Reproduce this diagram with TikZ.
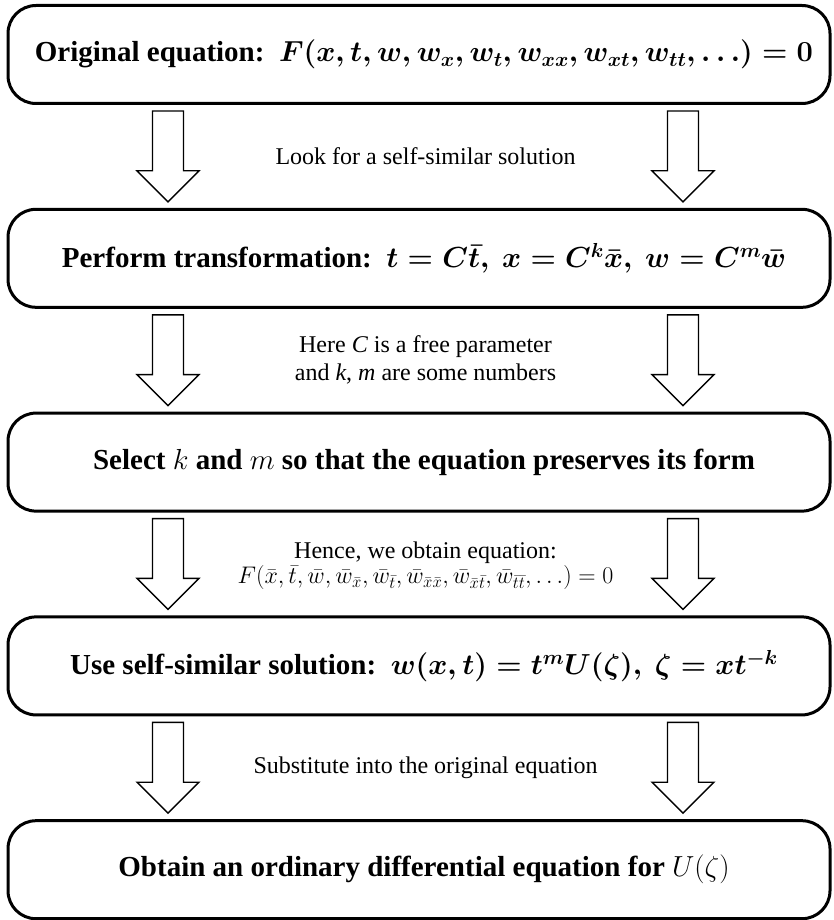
\documentclass[tikz,border=0pt]{standalone}
\usepackage{fix-cm}
\usepackage{fontspec}
\setmainfont{Liberation Serif}
\usetikzlibrary{calc}
\tikzset{
  stepbox/.style={draw, line width=3pt, rounded corners=28pt, minimum width=822pt,
    minimum height=98pt, inner sep=0pt, align=center,
    font=\fontsize{29}{33}\selectfont\bfseries},
  lbl/.style={font=\fontsize{24}{28}\selectfont, align=center, inner sep=0pt},
  blockarr/.style={draw, line width=1.4pt, fill=white, line join=miter},
}
\newcommand{\boxshift}{\hspace*{10pt}}
\begin{document}
\begin{tikzpicture}[x=1pt,y=1pt]
\useasboundingbox (0,0) rectangle (833,-920);
\node[stepbox] (b1) at (419,-54.5) {\boxshift Original equation:\ \ {\boldmath$F(x,t,w,w_x,w_t,w_{xx},w_{xt},w_{tt},\ldots)=0$}};
\node[stepbox] (b2) at (419,-258.3) {\boxshift Perform transformation:\ \ {\boldmath$t=C\bar t,\ x=C^k\bar x,\ w=C^m\bar w$}};
\node[stepbox] (b3) at (419,-462.1) {\boxshift Select $k$ and $m$ so that the equation preserves its form};
\node[stepbox] (b4) at (419,-665.9) {\boxshift Use self-similar solution:\ \ {\boldmath$w(x,t)=t^mU(\zeta),\ \zeta=xt^{-k}$}};
\node[stepbox] (b5) at (419,-869.7) {\boxshift Obtain an ordinary differential equation for $U(\zeta)$};
\coordinate (L) at (168,0);
\coordinate (R) at (683,0);
\foreach \ta/\tb in {b1/b2,b2/b3,b3/b4,b4/b5}{
  \foreach \col in {L,R}{
    \draw[blockarr] ($(\ta.south -| \col)+(-15.5,-6)$) -- ($(\tb.north -| \col)+(-15.5,37)$)
      -- ($(\tb.north -| \col)+(-31,37)$) -- ($(\tb.north -| \col)+(0,6)$)
      -- ($(\tb.north -| \col)+(31,37)$) -- ($(\tb.north -| \col)+(15.5,37)$)
      -- ($(\ta.south -| \col)+(15.5,-6)$) -- cycle;
  }
}
\node[lbl] (l1) at (425.5,-156.5) {Look for a self-similar solution};
\node[lbl] (l2) at (425.5,-360) {Here \textit{C} is a free parameter\\and \textit{k}, \textit{m} are some numbers};
\node[lbl] (l3) at (425.5,-566) {Hence, we obtain equation:\\[-3pt]
  $F(\bar x,\bar t,\bar w,\bar w_{\bar x},\bar w_{\bar t},\bar w_{\bar x\bar x},\bar w_{\bar x\bar t},\bar w_{\bar t\bar t},\ldots)=0$};
\node[lbl] (l4) at (425.5,-768) {Substitute into the original equation};
\end{tikzpicture}
\end{document}
